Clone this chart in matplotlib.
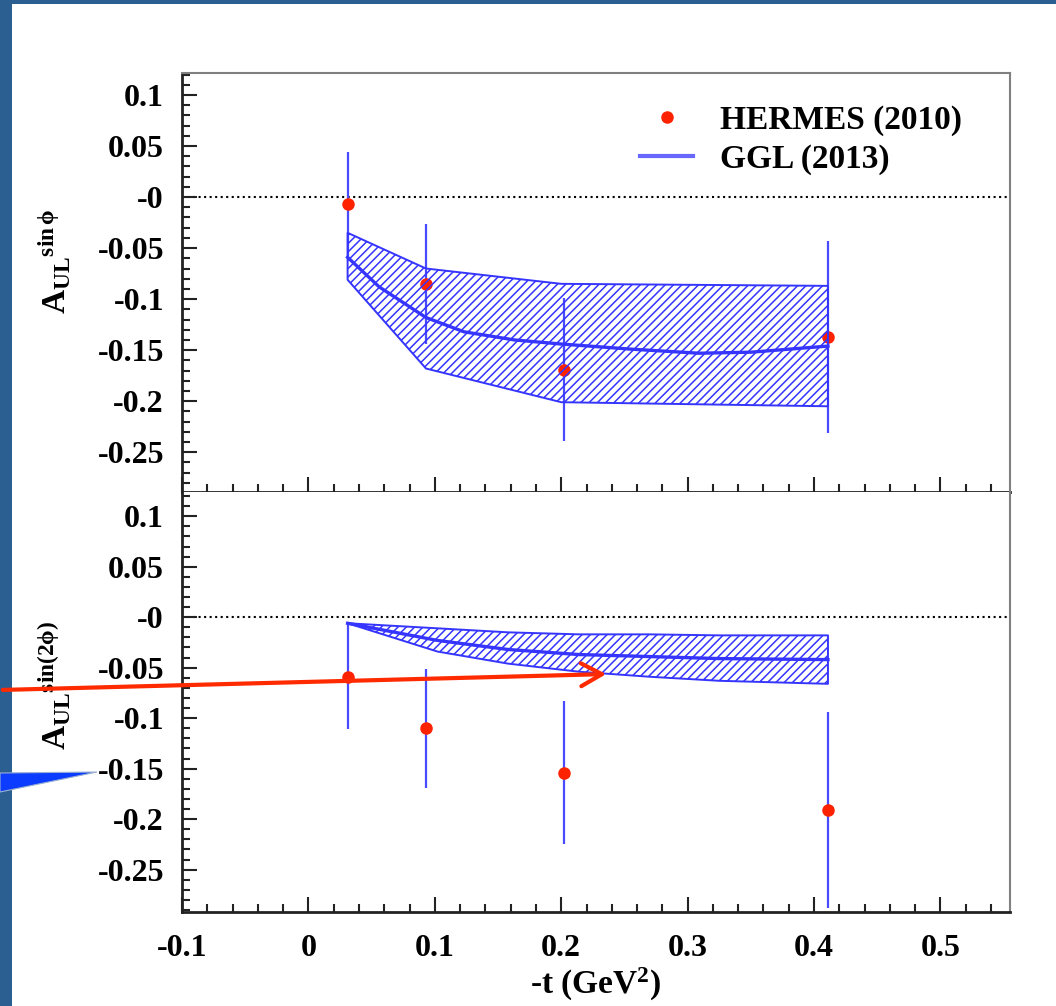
import matplotlib
matplotlib.use("Agg")
import matplotlib.pyplot as plt
from matplotlib.patches import Rectangle, Polygon, FancyArrowPatch, ArrowStyle
from matplotlib.lines import Line2D
from matplotlib.ticker import MultipleLocator, FixedLocator, FixedFormatter

plt.rcParams['font.family'] = ['Liberation Serif', 'DejaVu Serif']
plt.rcParams['font.weight'] = 'bold'
plt.rcParams['axes.labelweight'] = 'bold'
plt.rcParams['mathtext.fontset'] = 'custom'
plt.rcParams['mathtext.rm'] = 'Liberation Serif:bold'
plt.rcParams['mathtext.bf'] = 'Liberation Serif:bold'
plt.rcParams['mathtext.it'] = 'Liberation Serif:bold'
plt.rcParams['mathtext.default'] = 'bf'
plt.rcParams['hatch.linewidth'] = 1.1

# HERMES (2010) points, sin(phi) moment
t_pts = [0.031, 0.093, 0.202, 0.411]
a1_val = [-0.007, -0.085, -0.169, -0.137]
a1_err = [0.051, 0.059, 0.070, 0.094]
# sin(2phi) moment
a2_val = [-0.059, -0.110, -0.154, -0.191]
a2_err = [0.052, 0.059, 0.071, 0.097]

# GGL (2013) band, upper panel
band1_t = [0.031, 0.093, 0.200, 0.411]
band1_hi = [-0.035, -0.070, -0.085, -0.087]
band1_lo = [-0.081, -0.168, -0.201, -0.205]
curve1_t = [0.031, 0.056, 0.093, 0.123, 0.163, 0.200, 0.255, 0.309, 0.350, 0.411]
curve1_y = [-0.059, -0.088, -0.118, -0.132, -0.140, -0.144, -0.149, -0.153, -0.152, -0.146]

# GGL (2013) band, lower panel
band2_t = [0.031, 0.102, 0.158, 0.214, 0.270, 0.325, 0.411]
band2_hi = [-0.006, -0.011, -0.015, -0.017, -0.017, -0.018, -0.018]
band2_lo = [-0.006, -0.034, -0.046, -0.054, -0.059, -0.063, -0.066]
band2_mid = [-0.006, -0.023, -0.032, -0.037, -0.039, -0.041, -0.042]

x_ticks = [-0.1, 0, 0.1, 0.2, 0.3, 0.4, 0.5]
x_labels = ['-0.1', '0', '0.1', '0.2', '0.3', '0.4', '0.5']
y_ticks = [0.1, 0.05, 0, -0.05, -0.1, -0.15, -0.2, -0.25]
y_labels = ['0.1', '0.05', '-0', '-0.05', '-0.1', '-0.15', '-0.2', '-0.25']

W, H = 1056, 1006
fig = plt.figure(figsize=(W / 100, H / 100), dpi=100)
fig.patch.set_facecolor('#2b5e91')
fig.add_artist(Rectangle((12 / W, 0), 1 - 12 / W, 1 - 4 / H, transform=fig.transFigure,
                         facecolor='white', edgecolor='none', zorder=-10))

left, width = 182 / W, (1010 - 182) / W
ax1 = fig.add_axes([left, 1 - 492 / H, width, (492 - 73) / H])
ax2 = fig.add_axes([left, 1 - 912 / H, width, (912 - 492) / H])

red = '#ff2200'
blue = '#3535ff'
ebar = '#4a4aff'

for ax in (ax1, ax2):
    ax.set_xlim(-0.1, 0.555)
    ax.axhline(0, color='black', ls=':', lw=1.5, zorder=1)
    ax.xaxis.set_major_locator(FixedLocator(x_ticks))
    ax.xaxis.set_major_formatter(FixedFormatter(x_labels))
    ax.xaxis.set_minor_locator(MultipleLocator(0.02))
    ax.yaxis.set_major_locator(FixedLocator(y_ticks))
    ax.yaxis.set_major_formatter(FixedFormatter(y_labels))
    ax.yaxis.set_minor_locator(MultipleLocator(0.01))
    ax.tick_params(which='both', direction='in', top=False, right=False,
                   labelsize=23, width=1.5, color='#222222')
    ax.tick_params(which='major', length=11)
    ax.tick_params(which='minor', length=5.5)
    ax.tick_params(axis='y', pad=13)
    ax.tick_params(axis='x', pad=16)
    for s in ('left', 'bottom'):
        ax.spines[s].set_linewidth(2)
        ax.spines[s].set_color('#222222')
    for s in ('top', 'right'):
        ax.spines[s].set_linewidth(1.5)
        ax.spines[s].set_color('#808080')

ax2.spines['top'].set_visible(False)
ax1.set_ylim(-0.289, 0.1216)
ax2.set_ylim(-0.292, 0.124)
ax1.tick_params(labelbottom=False)

# upper panel
ax1.errorbar(t_pts, a1_val, yerr=a1_err, fmt='o', color=red, ms=8,
             ecolor=ebar, elinewidth=1.6, capsize=0, zorder=3)
ax1.fill_between(band1_t, band1_lo, band1_hi, facecolor='none', edgecolor=blue,
                 hatch='////', lw=1.4, zorder=4)
ax1.plot(curve1_t, curve1_y, color=blue, lw=2.4, zorder=5)

# lower panel
ax2.errorbar(t_pts, a2_val, yerr=a2_err, fmt='o', color=red, ms=8,
             ecolor=ebar, elinewidth=1.6, capsize=0, zorder=3)
ax2.fill_between(band2_t, band2_lo, band2_hi, facecolor='none', edgecolor=blue,
                 hatch='////', lw=1.4, zorder=4)
ax2.plot(band2_t, band2_mid, color=blue, lw=2.4, zorder=5)

ax1.set_ylabel(r'$A_{UL}{}^{sin\,\phi}$', fontsize=24)
ax2.set_ylabel(r'$A_{UL}{}^{sin(2\phi)}$', fontsize=24)
ax1.yaxis.set_label_coords(-0.132, 0.55)
ax2.yaxis.set_label_coords(-0.132, 0.54)
ax2.set_xlabel(r'-t (GeV$^{2}$)', fontsize=24, labelpad=2)

handles = [Line2D([], [], marker='o', ls='none', color=red, ms=8),
           Line2D([], [], color='#6868ff', lw=3)]
ax1.legend(handles, ['HERMES (2010)', 'GGL (2013)'], loc='upper left',
           bbox_to_anchor=(0.553, 0.924), frameon=False, fontsize=24,
           handlelength=1.6, handletextpad=0.8, labelspacing=0.22,
           borderpad=0, borderaxespad=0)

# annotation overlays from the slide
fig.add_artist(Polygon([(0, 1 - 773 / H), (97 / W, 1 - 772 / H), (0, 1 - 792 / H)],
                       closed=True, transform=fig.transFigure, facecolor='#0c3cff',
                       edgecolor='#9ab0d0', lw=0.8, zorder=20))
arrow = FancyArrowPatch((0, 1 - 690 / H), (609 / W, 1 - 674 / H),
                        transform=fig.transFigure,
                        arrowstyle=ArrowStyle('->', head_length=1.0, head_width=0.55),
                        mutation_scale=15, color='#ff2a00', lw=3, zorder=21)
fig.add_artist(arrow)

fig.savefig('out.png', dpi=100, facecolor=fig.get_facecolor())
